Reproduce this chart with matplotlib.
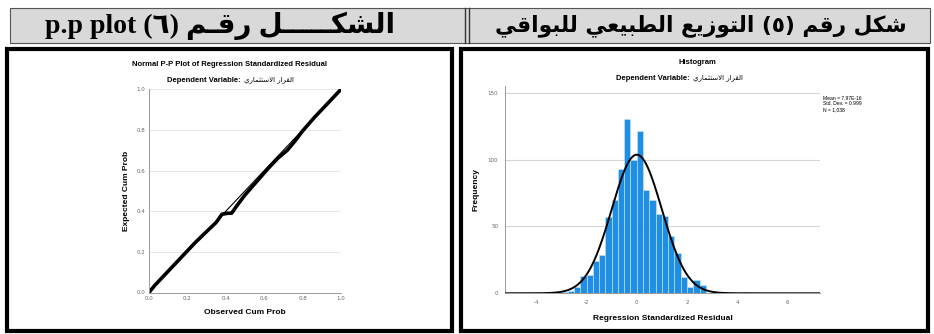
import numpy as np
import matplotlib
matplotlib.use('Agg')
import matplotlib.pyplot as plt
from matplotlib.patches import Rectangle
from matplotlib.lines import Line2D

plt.rcParams['axes.unicode_minus'] = False

# ---- data ----
hist_bin_left = [-3.0, -2.75, -2.5, -2.25, -2.0, -1.75, -1.5, -1.25, -1.0, -0.75,
                 -0.5, -0.25, 0.0, 0.25, 0.5, 0.75, 1.0, 1.25, 1.5, 1.75,
                 2.0, 2.25, 2.5, 4.25]
hist_counts = [1, 2, 5, 13, 14, 24, 29, 57, 70, 93,
               130, 100, 121, 77, 70, 59, 58, 43, 30, 12,
               5, 10, 6, 1]
bin_width = 0.25
res_mean, res_sd, res_n = 0.0, 0.999, 1038
hist_xticks = [-4, -2, 0, 2, 4, 6]
hist_yticks = [0, 50, 100, 150]

pp_observed = [0.0, 0.03, 0.08, 0.13, 0.18, 0.24, 0.30, 0.35, 0.38, 0.41, 0.43,
               0.46, 0.50, 0.56, 0.62, 0.67, 0.72, 0.76, 0.80, 0.86, 0.92, 0.97, 1.0]
pp_expected = [0.0, 0.035, 0.085, 0.135, 0.185, 0.245, 0.30, 0.345, 0.385, 0.39, 0.39,
               0.43, 0.48, 0.545, 0.61, 0.66, 0.70, 0.745, 0.795, 0.86, 0.92, 0.97, 1.0]
pp_ticks = [0.0, 0.2, 0.4, 0.6, 0.8, 1.0]

header_right = "شكل رقم (٥) التوزيع الطبيعي للبواقي"
header_left_ar = "الشكـــــل رقـم (٦)"
header_left_en = "p.p plot"
dep_var = "القرار الاستثماري"

# ---- tiny arabic shaper (matplotlib does no shaping / rtl) ----
FORMS = {  # isolated, final, initial, medial
    'ا': ('\uFE8D', '\uFE8E', None, None),
    'ب': ('\uFE8F', '\uFE90', '\uFE91', '\uFE92'),
    'ت': ('\uFE95', '\uFE96', '\uFE97', '\uFE98'),
    'ث': ('\uFE99', '\uFE9A', '\uFE9B', '\uFE9C'),
    'ر': ('\uFEAD', '\uFEAE', None, None),
    'ز': ('\uFEAF', '\uFEB0', None, None),
    'س': ('\uFEB1', '\uFEB2', '\uFEB3', '\uFEB4'),
    'ش': ('\uFEB5', '\uFEB6', '\uFEB7', '\uFEB8'),
    'ط': ('\uFEC1', '\uFEC2', '\uFEC3', '\uFEC4'),
    'ع': ('\uFEC9', '\uFECA', '\uFECB', '\uFECC'),
    'ق': ('\uFED5', '\uFED6', '\uFED7', '\uFED8'),
    'ك': ('\uFED9', '\uFEDA', '\uFEDB', '\uFEDC'),
    'ل': ('\uFEDD', '\uFEDE', '\uFEDF', '\uFEE0'),
    'م': ('\uFEE1', '\uFEE2', '\uFEE3', '\uFEE4'),
    'و': ('\uFEED', '\uFEEE', None, None),
    'ي': ('\uFEF1', '\uFEF2', '\uFEF3', '\uFEF4'),
    'ـ': ('\u0640', '\u0640', '\u0640', '\u0640'),
}


def joins_next(c):
    return c in FORMS and FORMS[c][2] is not None


def rtl(text):
    out = []
    i = 0
    n = len(text)
    while i < n:
        c = text[i]
        prev = text[i - 1] if i > 0 else ''
        from_prev = joins_next(prev)
        if c == 'ل' and i + 1 < n and text[i + 1] == 'ا':
            out.append('\uFEFC' if from_prev else '\uFEFB')
            i += 2
            continue
        if c in FORMS:
            nxt = text[i + 1] if i + 1 < n else ''
            to_next = joins_next(c) and nxt in FORMS
            iso, fin, ini, med = FORMS[c]
            if from_prev and to_next:
                out.append(med)
            elif from_prev:
                out.append(fin)
            elif to_next:
                out.append(ini)
            else:
                out.append(iso)
        else:
            out.append(c)
        i += 1
    s = ''.join(reversed(out))
    return s.translate(str.maketrans('()', ')('))


W, H = 934, 334
fig = plt.figure(figsize=(W / 100, H / 100), dpi=100)


def fx(px):
    return px / W


def fy(py):
    return 1 - py / H


sans = ['Liberation Sans', 'DejaVu Sans']

# ---- header row ----
fig.add_artist(Rectangle((fx(10), fy(43)), fx(920), 35 / H, transform=fig.transFigure,
                         facecolor='#D9D9D9', edgecolor='#555555', lw=0.8))
for xp in (465, 468.5):
    fig.add_artist(Line2D([fx(xp), fx(xp)], [fy(43), fy(8)], transform=fig.transFigure,
                          color='#333333', lw=1.0))
fig.text(fx(701), fy(26), rtl(header_right), ha='center', va='center',
         fontsize=15.6, fontweight='bold', family='DejaVu Sans')
fig.text(fx(220), fy(26), header_left_en + ' ' + rtl(header_left_ar), ha='center', va='center',
         fontsize=20, fontweight='bold', family=['Liberation Serif', 'DejaVu Sans'])

# ---- panel frames ----
for x0, x1 in ((6.5, 452), (461, 928)):
    fig.add_artist(Rectangle((fx(x0), fy(330.5)), fx(x1 - x0), (330.5 - 48.5) / H,
                             transform=fig.transFigure, facecolor='none',
                             edgecolor='black', lw=3))


def subtitle(x_split, y):
    fig.text(fx(x_split), fy(y), 'Dependent Variable: ', ha='right', va='center',
             fontsize=5.5, fontweight='bold', family=sans)
    fig.text(fx(x_split + 1), fy(y), rtl(dep_var), ha='left', va='center',
             fontsize=5, family='DejaVu Sans')


# ---- P-P plot ----
ax1 = fig.add_axes([fx(149), fy(292.5), fx(192), (292.5 - 89.3) / H])
ax1.plot([0, 1], [0, 1], color='black', lw=0.8)
ax1.plot(pp_observed, pp_expected, color='black', lw=2.6, solid_capstyle='round')
ax1.set_xlim(0, 1)
ax1.set_ylim(0, 1)
ax1.set_xticks(pp_ticks)
ax1.set_yticks(pp_ticks)
ax1.set_xticklabels([f'{t:.1f}' for t in pp_ticks])
ax1.set_yticklabels([f'{t:.1f}' for t in pp_ticks])
ax1.grid(axis='y', color='#E4E4E4', lw=0.6)
ax1.set_axisbelow(True)
for s in ('top', 'right'):
    ax1.spines[s].set_visible(False)
for s in ('left', 'bottom'):
    ax1.spines[s].set_color('#999999')
    ax1.spines[s].set_linewidth(0.7)
ax1.tick_params(length=0, labelsize=4, labelcolor='#666666', pad=2.5)
ax1.set_xlabel('Observed Cum Prob', fontsize=6, fontweight='bold', family=sans, labelpad=6)
ax1.set_ylabel('Expected Cum Prob', fontsize=6, fontweight='bold', family=sans, labelpad=5)
fig.text(fx(230), fy(65), 'Normal P-P Plot of Regression Standardized Residual',
         ha='center', va='center', fontsize=5.5, fontweight='bold', family=sans)
subtitle(243, 80)

# ---- histogram ----
ax2 = fig.add_axes([fx(505), fy(293.3), fx(315), (293.3 - 86) / H])
ax2.bar(hist_bin_left, hist_counts, width=bin_width, align='edge',
        color='#1E8FE3', edgecolor='#CFE6FA', lw=0.4, zorder=2)
xs = np.linspace(-5.25, 7.3, 400)
curve = res_n * bin_width * np.exp(-0.5 * ((xs - res_mean) / res_sd) ** 2) / (res_sd * np.sqrt(2 * np.pi))
ax2.plot(xs, curve, color='black', lw=1.4, zorder=3)
ax2.set_xlim(-5.25, 7.3)
ax2.set_ylim(0, 155)
ax2.set_xticks(hist_xticks)
ax2.set_yticks(hist_yticks)
ax2.grid(axis='y', color='#D6D6D6', lw=0.8, zorder=0)
for s in ('top', 'right'):
    ax2.spines[s].set_visible(False)
for s in ('left', 'bottom'):
    ax2.spines[s].set_color('#999999')
    ax2.spines[s].set_linewidth(0.7)
ax2.tick_params(length=0, labelsize=4, labelcolor='#666666', pad=5)
ax2.set_xlabel('Regression Standardized Residual', fontsize=6, fontweight='bold', family=sans, labelpad=7)
ax2.set_ylabel('Frequency', fontsize=6, fontweight='bold', family=sans, labelpad=6)
fig.text(fx(697), fy(62), 'Histogram', ha='center', va='center',
         fontsize=5.5, fontweight='bold', family=sans)
subtitle(692, 78)
fig.text(fx(823), fy(96), 'Mean = 7.97E-16\nStd. Dev. = 0.999\nN = 1,038',
         ha='left', va='top', fontsize=3.6, family=sans, linespacing=1.1)

fig.savefig('out.png', dpi=100)
